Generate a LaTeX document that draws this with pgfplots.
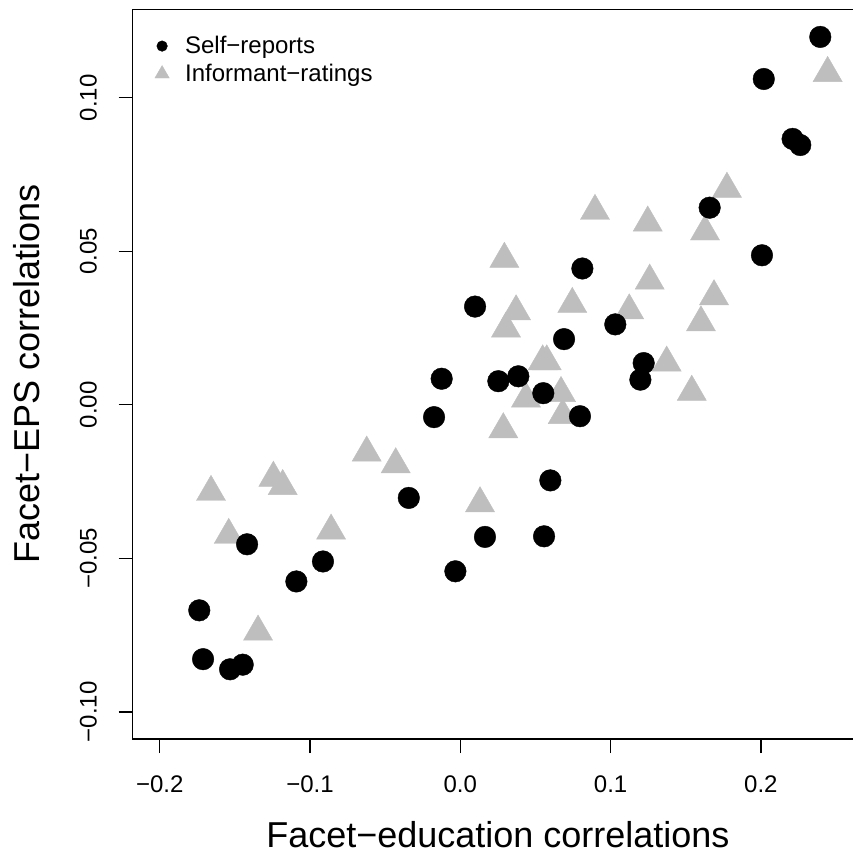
\documentclass[border=0pt]{standalone}
\usepackage{fontspec}
\setmainfont{Liberation Sans}
\usepackage{pgfplots}
\pgfplotsset{compat=1.18}
\definecolor{rgray}{RGB}{190,190,190}

\begin{document}
\begin{tikzpicture}
\begin{axis}[
    name=ax,
    scale only axis,
    width=365.2pt,
    height=364.85pt,
    xmin=-0.218, xmax=0.268,
    ymin=-0.1088, ymax=0.1288,
    xtick={-0.2,-0.1,0,0.1,0.2},
    xticklabels={−0.2,−0.1,0.0,0.1,0.2},
    ytick={-0.1,-0.05,0,0.05,0.1},
    yticklabels={−0.10,−0.05,0.00,0.05,0.10},
    xtick pos=bottom, ytick pos=left,
    tick align=outside,
    major tick length=7pt,
    tick style={black, line width=0.6pt},
    axis line style={line width=0.6pt},
    tick label style={font=\fontsize{12}{14}\selectfont, inner sep=0pt},
    xticklabel style={anchor=base},
    yticklabel style={rotate=90, anchor=base},
    xticklabel shift=19.5pt,
    yticklabel shift=11pt,
    xlabel={Facet−education correlations},
    ylabel={Facet−EPS correlations},
    xlabel style={at={([yshift=-54pt]axis description cs:0.5,0)}, anchor=base, inner sep=0pt, font=\fontsize{18}{20}\selectfont},
    ylabel style={at={([xshift=-46.7pt]axis description cs:0,0.5)}, rotate=0, anchor=base, inner sep=0pt, font=\fontsize{18}{20}\selectfont},
    legend style={at={(axis description cs:0,1)}, anchor=north west,
        xshift=10.5pt, yshift=-13.3pt, draw=none, fill=none,
        inner sep=0pt, outer sep=0pt, row sep=3.7pt, column sep=7.3pt,
        nodes={inner sep=0pt},
        font=\fontsize{12}{14}\selectfont},
    legend cell align=left,
    legend image code/.code={\path (-4pt,0pt) (4pt,0pt); \draw[#1] plot coordinates {(0pt,0pt)};},
]
\addlegendimage{only marks, mark=*, mark size=2.65pt, black, mark options={line width=0.2pt}}
\addlegendimage{only marks, mark=triangle*, mark size=4.15pt, rgray, mark options={line width=0.2pt}}

% informant ratings (drawn first, circles on top)
\addplot[only marks, mark=triangle*, mark size=8.4pt, color=rgray, mark options={line width=0.2pt}, forget plot] coordinates {
(0.2444,0.1080) (0.1774,0.0703) (0.0896,0.0631) (0.1247,0.0593) (0.1628,0.0564)
(0.0293,0.0475) (0.1260,0.0404) (0.0745,0.0328) (0.0371,0.0304) (0.1688,0.0353)
(0.1124,0.0307) (0.0304,0.0248) (0.1601,0.0268) (0.0548,0.0141) (0.0575,0.0141)
(0.1373,0.0137) (0.0437,0.0020) (0.0670,0.0038) (0.0681,-0.0034) (0.0286,-0.0080)
(0.1540,0.0042) (0.0131,-0.0321) (-0.0623,-0.0156) (-0.0430,-0.0194) (-0.1244,-0.0238)
(-0.1182,-0.0265) (-0.1659,-0.0284) (-0.1541,-0.0424) (-0.0860,-0.0410) (-0.1346,-0.0739)
};

% self-reports
\addplot[only marks, mark=*, mark size=5.4pt, color=black, mark options={line width=0.2pt}, forget plot] coordinates {
(0.2395,0.1198) (0.2019,0.1061) (0.2211,0.0866) (0.2262,0.0846) (0.1659,0.0642)
(0.2007,0.0487) (0.0812,0.0444) (0.0098,0.0320) (0.1031,0.0262) (0.0690,0.0214)
(0.1220,0.0136) (0.1198,0.0082) (0.0253,0.0077) (0.0386,0.0093) (0.0552,0.0038)
(0.0796,-0.0037) (-0.0124,0.0085) (-0.0175,-0.0040) (-0.0343,-0.0303) (0.0599,-0.0246)
(0.0164,-0.0430) (0.0557,-0.0428) (-0.0033,-0.0542) (-0.0914,-0.0510) (-0.1091,-0.0575)
(-0.1419,-0.0454) (-0.1737,-0.0669) (-0.1712,-0.0828) (-0.1532,-0.0861) (-0.1448,-0.0846)
};

\legend{Self−reports, Informant−ratings}
\end{axis}
\pgfresetboundingbox
\path[use as bounding box] ([xshift=-66.35pt,yshift=-58pt]ax.south west) rectangle ([xshift=-5.05pt,yshift=4.65pt]ax.north east);
\end{tikzpicture}
\end{document}
